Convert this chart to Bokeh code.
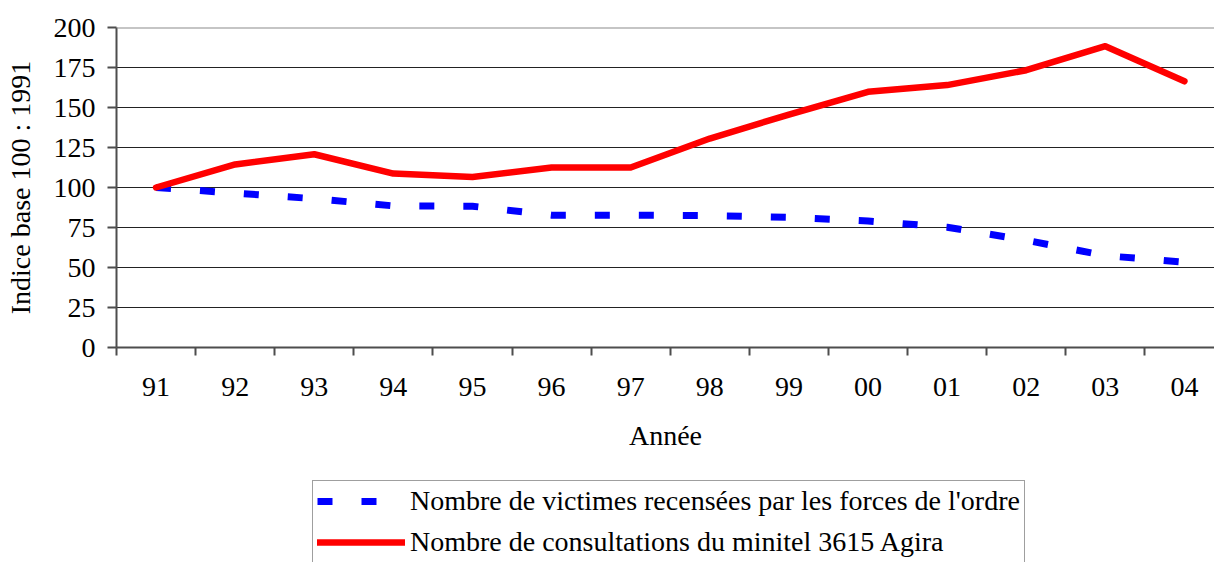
from bokeh.plotting import figure
from bokeh.layouts import column
from bokeh.models import (Range1d, FixedTicker, CustomJSTickFormatter, Legend,
                          LegendItem, Span, ColumnDataSource)
from bokeh.embed import file_html
from bokeh.resources import INLINE

# ---- data ----
annees = ["91", "92", "93", "94", "95", "96", "97", "98", "99", "00", "01", "02", "03", "04"]
victimes = [100, 96.5, 93, 88.5, 88.3, 82.7, 82.7, 82.4, 81.4, 79.1, 75.2, 67, 57.4, 53.3]
consultations = [100, 114.4, 120.8, 108.7, 106.6, 112.5, 112.5, 130.6, 145.6, 159.8, 164, 173.3, 188.3, 166.4]
yticks = [0, 25, 50, 75, 100, 125, 150, 175, 200]
label_victimes = "Nombre de victimes recensées par les forces de l'ordre"
label_consult = "Nombre de consultations du minitel 3615 Agira"
y_title = "Indice base 100 : 1991"
x_title = "Année"

FONT = "Liberation Serif"
FS = "28px"
AXIS_COL = "#4d4d4d"

n = len(annees)
centers = [i + 0.5 for i in range(n)]
bounds = [float(i) for i in range(n)]

src = ColumnDataSource(dict(x=centers, annee=annees, victimes=victimes,
                            consultations=consultations))

BLUE = dict(line_color="#0000ff", line_width=7, line_dash="15 29", line_cap="butt")
RED = dict(line_color="#ff0000", line_width=6.5, line_cap="round", line_join="round")

# ---------------- main chart ----------------
p = figure(width=1214, height=480, output_backend="svg", toolbar_location=None,
           x_range=Range1d(0, 13.88), y_range=Range1d(0, 200),
           min_border_left=116, min_border_top=27, min_border_right=0,
           min_border_bottom=133)
p.outline_line_color = None
p.background_fill_color = "white"
p.border_fill_color = "white"

p.xgrid.visible = False
p.ygrid.ticker = FixedTicker(ticks=yticks)
p.ygrid.grid_line_color = "#222222"
p.ygrid.grid_line_width = 1

top = Span(location=p.y_range.end, dimension="width", line_color="#8c8c8c", line_width=2)
p.add_layout(top)

xa = p.xaxis[0]
xa.ticker = FixedTicker(ticks=centers, minor_ticks=bounds)
xa.formatter = CustomJSTickFormatter(args=dict(labels=annees),
                                     code="const i = Math.floor(tick); return (i >= 0 && i < labels.length) ? labels[i] : '';")
xa.major_tick_line_color = None
xa.minor_tick_line_color = AXIS_COL
xa.minor_tick_line_width = 2
xa.minor_tick_out = 8
xa.minor_tick_in = 0
xa.axis_line_color = AXIS_COL
xa.axis_line_width = 2
xa.major_label_text_font = FONT
xa.major_label_text_font_size = FS
xa.major_label_text_color = "black"
xa.major_label_standoff = 22
xa.axis_label = x_title
xa.axis_label_text_font = FONT
xa.axis_label_text_font_size = FS
xa.axis_label_text_font_style = "normal"
xa.axis_label_text_color = "black"
xa.axis_label_standoff = 21

ya = p.yaxis[0]
ya.ticker = FixedTicker(ticks=yticks, minor_ticks=[])
ya.major_tick_line_color = AXIS_COL
ya.major_tick_line_width = 2
ya.major_tick_out = 9
ya.major_tick_in = 0
ya.axis_line_color = AXIS_COL
ya.axis_line_width = 2
ya.major_label_text_font = FONT
ya.major_label_text_font_size = FS
ya.major_label_text_color = "black"
ya.major_label_standoff = 12
ya.axis_label = y_title
ya.axis_label_text_font = FONT
ya.axis_label_text_font_size = FS
ya.axis_label_text_font_style = "normal"
ya.axis_label_text_color = "black"
ya.axis_label_standoff = 15

p.line("x", "victimes", source=src, **BLUE)
p.line("x", "consultations", source=src, **RED)

# ---------------- legend strip ----------------
leg = figure(width=1214, height=82, output_backend="svg", toolbar_location=None,
             x_range=Range1d(1000, 1001), y_range=Range1d(0, 1),
             x_axis_location=None, y_axis_location=None,
             min_border=0)
leg.outline_line_color = None
leg.grid.visible = False
leg.background_fill_color = "white"
leg.border_fill_color = "white"
lb = leg.line("x", "victimes", source=src, **BLUE)
lr = leg.line("x", "consultations", source=src, **RED)

legend = Legend(items=[LegendItem(label=label_victimes, renderers=[lb]),
                       LegendItem(label=label_consult, renderers=[lr])],
                location=(196, -1), orientation="vertical",
                padding=4, spacing=9, margin=0,
                glyph_width=88, glyph_height=32, label_height=32,
                label_standoff=5,
                label_text_font=FONT, label_text_font_size=FS, label_text_color="black",
                border_line_color="#404040", border_line_width=1,
                background_fill_color="white", background_fill_alpha=1)
leg.add_layout(legend, "center")

open("out.html", "w").write(file_html(column(p, leg, spacing=0), INLINE))
